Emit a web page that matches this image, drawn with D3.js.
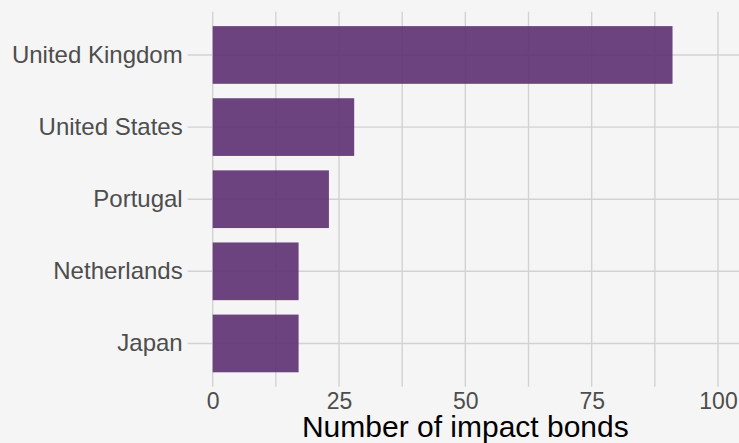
<!DOCTYPE html>
<html>
<head>
<meta charset="utf-8">
<script src="https://cdn.jsdelivr.net/npm/d3@7"></script>
<style>
  html, body { margin: 0; padding: 0; background: #f5f5f5; }
  svg { display: block; }
</style>
</head>
<body>
<script>
const countries = ["United Kingdom", "United States", "Portugal", "Netherlands", "Japan"];
const bondCounts = [91, 28, 23, 17, 17];
const xTickValues = [0, 25, 50, 75, 100];
const xGridValues = [0, 12.5, 25, 37.5, 50, 62.5, 75, 87.5, 100];
const xTitle = "Number of impact bonds";

const W = 739, H = 443;
const panel = { left: 187.7, right: 739, top: 11.7, bottom: 386.7 };

const svg = d3.select("body").append("svg")
  .attr("width", W).attr("height", H)
  .style("font-family", "'Liberation Sans', Arial, Helvetica, sans-serif");

svg.append("rect").attr("width", W).attr("height", H).attr("fill", "#f5f5f5");

const x = d3.scaleLinear().domain([0, 100]).range([212.7, 718]);
const y = d3.scaleBand().domain(countries)
  .range([panel.top, panel.bottom]).paddingInner(0.2).paddingOuter(0.2);

// grid
const grid = svg.append("g");
grid.selectAll("line.v").data(xGridValues).join("line")
  .attr("class", "v")
  .attr("x1", d => x(d)).attr("x2", d => x(d))
  .attr("y1", panel.top).attr("y2", panel.bottom)
  .attr("stroke", "#d2d2d2").attr("stroke-width", 1.4);
grid.selectAll("line.h").data(countries).join("line")
  .attr("class", "h")
  .attr("x1", panel.left).attr("x2", panel.right)
  .attr("y1", d => y(d) + y.bandwidth() / 2).attr("y2", d => y(d) + y.bandwidth() / 2)
  .attr("stroke", "#d2d2d2").attr("stroke-width", 1.4);

// bars
svg.append("g").selectAll("rect").data(countries).join("rect")
  .attr("x", x(0))
  .attr("y", d => y(d))
  .attr("width", (d, i) => x(bondCounts[i]) - x(0))
  .attr("height", y.bandwidth())
  .attr("fill", "#5f3374")
  .attr("fill-opacity", 0.92);

// y axis labels
const yAxis = d3.axisLeft(y).tickSize(0).tickPadding(0);
const gy = svg.append("g").attr("transform", "translate(182.7,0)").call(yAxis);
gy.select(".domain").remove();
gy.selectAll("text")
  .attr("fill", "#4d4d4d")
  .style("font-size", "24px")
  .style("font-family", "'Liberation Sans', Arial, Helvetica, sans-serif");

// x axis labels
const xAxis = d3.axisBottom(x).tickValues(xTickValues).tickSize(0).tickPadding(0);
const gx = svg.append("g").attr("transform", "translate(0,0)").call(xAxis);
gx.select(".domain").remove();
gx.selectAll("text")
  .attr("y", 409.3).attr("dy", null)
  .attr("fill", "#4d4d4d")
  .style("font-size", "23px")
  .style("font-family", "'Liberation Sans', Arial, Helvetica, sans-serif");

// x title
svg.append("text")
  .attr("x", (x(0) + x(100)) / 2)
  .attr("y", 437.3)
  .attr("text-anchor", "middle")
  .attr("fill", "#000")
  .style("font-size", "30px")
  .text(xTitle);
</script>
</body>
</html>
